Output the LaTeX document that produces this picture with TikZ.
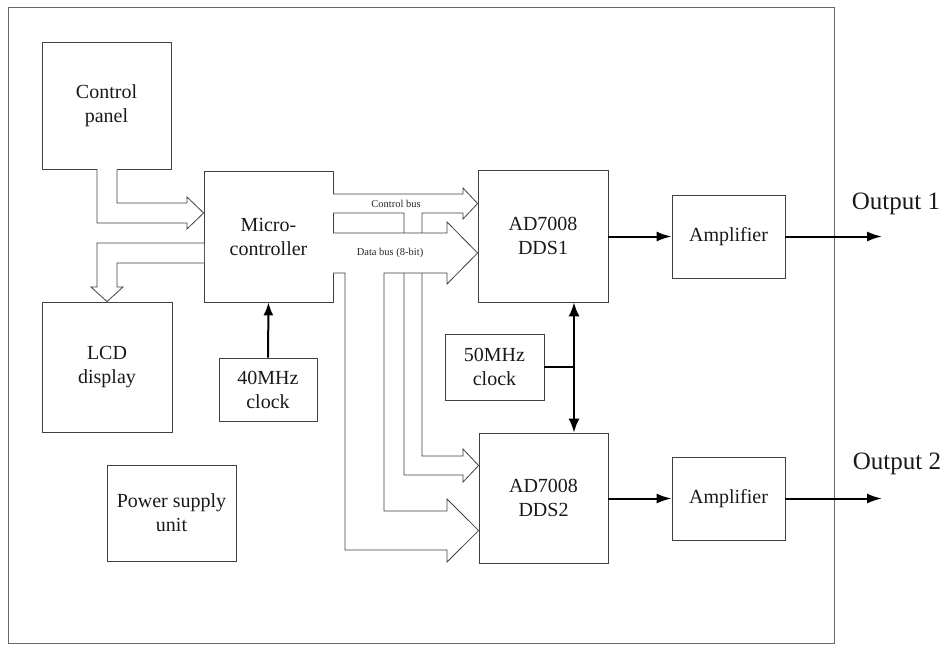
\documentclass[tikz,border=0pt]{standalone}
\usepackage{fontspec}
\setmainfont{Liberation Serif}
\usetikzlibrary{arrows.meta}
\begin{document}
\begin{tikzpicture}[x=1pt,y=-1pt,
  box/.style={draw=black!75, line width=0.8pt, align=center, inner sep=0pt,
    font=\fontsize{20}{24}\selectfont, text=black!90},
  bus/.style={draw=black!75, line width=0.8pt, fill=white, line join=miter},
  sig/.style={line width=2pt, -{Latex[length=15pt,width=10pt]}},
  dsig/.style={line width=2pt, {Latex[length=14pt,width=11pt]}-{Latex[length=14pt,width=11pt]}},
  buslabel/.style={font=\fontsize{10.5}{12}\selectfont, inner sep=0pt, text=black!85},
  outlabel/.style={font=\fontsize{25}{28}\selectfont, inner sep=0pt, text=black!90}]
\useasboundingbox (0,0) rectangle (947,646);
\draw[black!60, line width=0.8pt] (8,7) rectangle (834,643);

% blocks
\node[box, minimum width=129pt, minimum height=127pt] (cp) at (106.5,105.5) {Control\\panel};
\node[box, minimum width=129pt, minimum height=131pt] (mc) at (268.5,236.5) {Micro-\\controller};
\node[box, minimum width=130pt, minimum height=130pt] (lcd) at (107,367) {LCD\\display};
\node[box, minimum width=98pt, minimum height=63pt] (c40) at (268,389.5) {40MHz\\clock};
\node[box, minimum width=129pt, minimum height=96pt] (psu) at (171.5,513) {Power supply\\unit};
\node[box, minimum width=130pt, minimum height=132pt] (dds1) at (543,236) {AD7008\\DDS1};
\node[box, minimum width=99pt, minimum height=66pt] (c50) at (494.5,367) {50MHz\\clock};
\node[box, minimum width=129pt, minimum height=130pt] (dds2) at (543.5,498) {AD7008\\DDS2};
\node[box, minimum width=113pt, minimum height=83pt] (amp1) at (728.5,236.5) {Amplifier};
\node[box, minimum width=113pt, minimum height=83pt] (amp2) at (728.5,498.5) {Amplifier};

% hollow arrow: control panel -> micro-controller
\draw[bus] (97,169) -- (97,223) -- (187,223) -- (187,229) -- (mc.west |- 0,213)
  -- (187,197) -- (187,203) -- (117,203) -- (117,169);
% hollow arrow: micro-controller -> LCD
\draw[bus] (204,243) -- (97,243) -- (97,287) -- (91,287) -- (lcd.north)
  -- (123,287) -- (117,287) -- (117,263) -- (204,263);

% control bus (to DDS1 and DDS2)
\draw[bus] (333,194) -- (463,194) -- (463,188) -- (dds1.west |- 0,203.5) -- (463,219)
  -- (463,213) -- (422,213) -- (422,456) -- (463,456) -- (463,449)
  -- (dds2.west |- 0,465.5) -- (463,482) -- (463,475) -- (404,475) -- (404,213) -- (333,213);
% data bus (to DDS1 and DDS2)
\draw[bus] (333,233) -- (447,233) -- (447,222) -- (dds1.west |- 0,253) -- (447,284)
  -- (447,273) -- (384,273) -- (384,511) -- (447,511) -- (447,499)
  -- (dds2.west |- 0,530.5) -- (447,562) -- (447,550) -- (345,550) -- (345,273) -- (333,273);

\node[buslabel] (lcb) at (396,203.5) {Control bus};
\node[buslabel] (ldb) at (390,253) {Data bus (8-bit)};

% clocks
\draw[line width=2pt, -{Latex[length=13pt,width=10pt]}] (c40.north) -- (mc.south);
\coordinate (j) at (574,367);
\draw[line width=2pt] (c50.east) -- (j);
\draw[dsig] (j |- dds1.south) -- (j |- dds2.north);

% signal path
\draw[sig] (dds1.east |- amp1.west) -- (amp1.west);
\draw[sig] (dds2.east |- amp2.west) -- (amp2.west);
\coordinate (o1) at (882,236.5);
\coordinate (o2) at (882,498.5);
\draw[sig] (amp1.east) -- (o1);
\draw[sig] (amp2.east) -- (o2);
\node[outlabel] (lo1) at (896,204) {Output 1};
\node[outlabel] (lo2) at (897,464) {Output 2};
\end{tikzpicture}
\end{document}
